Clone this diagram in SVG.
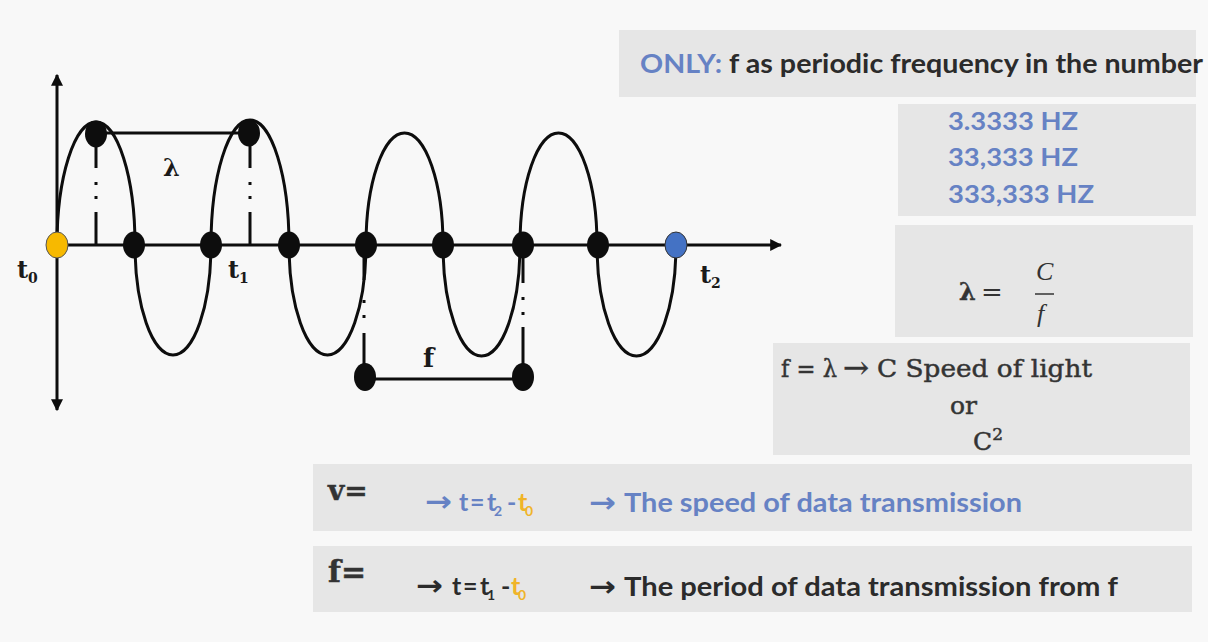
<svg xmlns="http://www.w3.org/2000/svg" width="1208" height="642" viewBox="0 0 1208 642">
<defs>
<style>
.box{fill:#e6e6e6}
.ln{stroke:#0d0d0d;stroke-width:3;fill:none}
.dot{fill:#0d0d0d}
.sans{font-family:Lato,"Open Sans","DejaVu Sans",sans-serif;font-weight:bold}
.arr{font-family:"DejaVu Sans",sans-serif;font-weight:bold}
.ser{font-family:"DejaVu Serif","Liberation Serif",serif}
.lbl{font-family:"DejaVu Serif","Liberation Serif",serif;font-weight:bold;fill:#1a1a1a}
.blue{fill:#6682c4}
.dark{fill:#2b2b2b}
.org{fill:#f0b429}
.heavy{stroke:#3a3a3a;stroke-width:0.5}
</style>
<marker id="ah" viewBox="0 0 10 10" refX="9" refY="5" markerWidth="4" markerHeight="4" orient="auto-start-reverse" markerUnits="strokeWidth">
<path d="M0,0 L10,5 L0,10 z" fill="#0d0d0d"/>
</marker>
</defs>
<rect width="1208" height="642" fill="#f8f8f8"/>

<g id="boxes">
<rect id="box-only" class="box" x="619" y="30" width="577" height="67"/>
<rect id="box-hz" class="box" x="898" y="104" width="298" height="112"/>
<rect id="box-lambda" class="box" x="895" y="225" width="298" height="112"/>
<rect id="box-flambda" class="box" x="773" y="343" width="417" height="112"/>
<rect id="box-v" class="box" x="313" y="464" width="879" height="67"/>
<rect id="box-f" class="box" x="313" y="546" width="879" height="66"/>
</g>

<g id="connectors">
<line class="ln" x1="57" y1="245" x2="781" y2="245" marker-end="url(#ah)"/>
<line class="ln" x1="57" y1="75" x2="57" y2="410" marker-start="url(#ah)" marker-end="url(#ah)"/>
<path id="wave" class="ln" d="M57,245 A39,123 0 0 1 135,245 A38,110 0 0 0 211,245 A39,125 0 0 1 289,245 A38.5,110 0 0 0 366,245 A38.5,112 0 0 1 443,245 A38.5,111 0 0 0 520,245 A38.5,112 0 0 1 597,245 A39.5,111 0 0 0 676,245"/>
<line class="ln" x1="96" y1="133" x2="249" y2="133"/>
<line class="ln" x1="366" y1="379" x2="523" y2="379"/>
<g class="ln" stroke-width="3">
<path d="M96,134 V168 M96,182 V185 M96,196 V199 M96,212 V245"/>
<path d="M250,134 V168 M250,182 V185 M250,196 V199 M250,212 V245"/>
<path d="M364,245 V280 M364,300 V303 M364,315 V318 M364,333 V377"/>
<path d="M523,245 V283 M523,297 V300 M523,312 V315 M523,327 V377"/>
</g>
</g>

<g id="dots">
<ellipse id="n-t0" cx="57" cy="245" rx="11" ry="13" fill="#f7b900" stroke="#555" stroke-width="1"/>
<ellipse id="n-p1" class="dot" cx="96" cy="134" rx="11" ry="13.5"/>
<ellipse id="n-p2" class="dot" cx="249" cy="133" rx="11" ry="13.5"/>
<ellipse id="n-z1" class="dot" cx="134" cy="245" rx="11" ry="13.5"/>
<ellipse id="n-z2" class="dot" cx="211" cy="245" rx="11" ry="13.5"/>
<ellipse id="n-z3" class="dot" cx="289" cy="245" rx="11" ry="13.5"/>
<ellipse id="n-z4" class="dot" cx="366" cy="245" rx="11" ry="13.5"/>
<ellipse id="n-z5" class="dot" cx="443" cy="245" rx="11" ry="13.5"/>
<ellipse id="n-z6" class="dot" cx="523" cy="245" rx="11" ry="13.5"/>
<ellipse id="n-z7" class="dot" cx="598" cy="245" rx="11" ry="13.5"/>
<ellipse id="n-t2" cx="676" cy="245" rx="11" ry="13" fill="#4472c4" stroke="#333" stroke-width="1"/>
<ellipse id="n-b1" class="dot" cx="365" cy="377" rx="11" ry="14"/>
<ellipse id="n-b2" class="dot" cx="523" cy="377" rx="11" ry="14"/>
</g>

<g id="wave-labels">
<text class="lbl" x="163" y="176" font-size="24">λ</text>
<text class="lbl" x="423" y="367" font-size="26">f</text>
<text class="lbl" x="17" y="278" font-size="24">t<tspan font-size="14" dy="5">0</tspan></text>
<text class="lbl" x="228" y="278" font-size="24">t<tspan font-size="14" dy="5">1</tspan></text>
<text class="lbl" x="700" y="283" font-size="24">t<tspan font-size="14" dy="5">2</tspan></text>
</g>

<g id="text-only">
<text class="sans" x="640" y="73" font-size="26" textLength="563" lengthAdjust="spacingAndGlyphs"><tspan class="blue">ONLY:</tspan><tspan class="dark"> f as periodic frequency in the number</tspan></text>
</g>

<g id="text-hz" class="sans blue" font-size="24">
<text x="948" y="130" textLength="130" lengthAdjust="spacingAndGlyphs">3.3333 HZ</text>
<text x="948" y="166" textLength="130" lengthAdjust="spacingAndGlyphs">33,333 HZ</text>
<text x="948" y="203" textLength="146" lengthAdjust="spacingAndGlyphs">333,333 HZ</text>
</g>

<g id="text-lambda" fill="#333">
<text class="ser heavy" x="959" y="300" font-size="24" font-weight="bold">λ</text>
<text class="ser" x="981" y="301" font-size="26">=</text>
<text x="1036" y="280" font-size="26" font-style="italic" font-family="'Liberation Serif',serif">C</text>
<line x1="1035" y1="294" x2="1054" y2="294" stroke="#333" stroke-width="1.5"/>
<text x="1037" y="322" font-size="26" font-style="italic" font-family="'Liberation Serif',serif">f</text>
</g>

<g id="text-flambda" class="ser heavy" fill="#333" font-size="25">
<text x="781" y="377"><tspan textLength="56" lengthAdjust="spacingAndGlyphs">f = λ</tspan><tspan x="843" y="378" font-size="30" textLength="26" lengthAdjust="spacingAndGlyphs">→</tspan><tspan x="877" y="377" textLength="215" lengthAdjust="spacingAndGlyphs">C Speed of light</tspan></text>
<text x="950" y="414">or</text>
<text x="973" y="450">C<tspan font-size="17" dy="-10">2</tspan></text>
</g>

<g id="text-v">
<text class="ser heavy" x="328" y="500" font-size="28" font-weight="bold" fill="#333">v=</text>
<text class="arr blue" x="425" y="511" font-size="28" textLength="27" lengthAdjust="spacingAndGlyphs">→</text>
<text class="sans" font-size="25" y="511"><tspan class="blue" x="459">t</tspan><tspan class="blue" x="470">=</tspan><tspan class="blue" x="487">t</tspan><tspan class="blue" x="494" dy="5" font-size="14">2</tspan><tspan class="blue" x="507" dy="-5">-</tspan><tspan class="org" x="518">t</tspan><tspan class="org" x="525" dy="5" font-size="14">0</tspan></text>
<text class="arr blue" x="589" y="512" font-size="28" textLength="27" lengthAdjust="spacingAndGlyphs">→</text>
<text class="sans blue" font-size="26" x="624" y="512" textLength="398" lengthAdjust="spacingAndGlyphs">The speed of data transmission</text>
</g>

<g id="text-f">
<text class="ser heavy" x="328" y="582" font-size="30" font-weight="bold" fill="#333">f=</text>
<text class="arr dark" x="416" y="595" font-size="28" textLength="27" lengthAdjust="spacingAndGlyphs">→</text>
<text class="sans dark" font-size="25" y="595"><tspan x="452">t</tspan><tspan x="463">=</tspan><tspan x="480">t</tspan><tspan x="487" dy="5" font-size="14">1</tspan><tspan x="501" dy="-5">-</tspan><tspan class="org" x="511">t</tspan><tspan class="org" x="518" dy="5" font-size="14">0</tspan></text>
<text class="arr dark" x="589" y="596" font-size="28" textLength="27" lengthAdjust="spacingAndGlyphs">→</text>
<text class="sans dark" font-size="26" x="624" y="596" textLength="494" lengthAdjust="spacingAndGlyphs">The period of data transmission from f</text>
</g>
</svg>
